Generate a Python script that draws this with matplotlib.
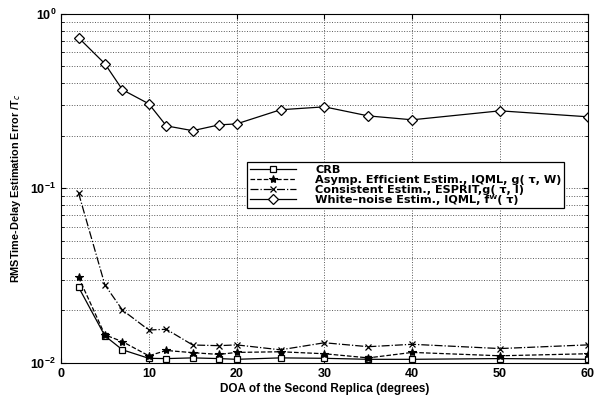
import numpy as np
import matplotlib.pyplot as plt

plt.rcParams['font.family'] = ['Liberation Sans', 'DejaVu Sans']

# DOA of the second replica (degrees)
doa = [2, 5, 7, 10, 12, 15, 18, 20, 25, 30, 35, 40, 50, 60]

crb = [0.0272, 0.0143, 0.0119, 0.01064, 0.0106, 0.0107, 0.0106, 0.0105,
       0.0107, 0.01064, 0.0105, 0.0105, 0.0106, 0.0105]
asymp = [0.031, 0.0145, 0.01325, 0.011, 0.0118, 0.01146, 0.0112, 0.0115,
         0.0116, 0.0113, 0.0107, 0.0115, 0.011, 0.0113]
consist = [0.094, 0.028, 0.0201, 0.01545, 0.0156, 0.01268, 0.01257, 0.0127,
           0.0119, 0.01306, 0.0124, 0.0128, 0.0121, 0.0127]
white = [0.729, 0.517, 0.367, 0.305, 0.228, 0.214, 0.231, 0.234,
         0.282, 0.293, 0.26, 0.247, 0.278, 0.257]

labels = ['CRB',
          'Asymp. Efficient Estim., IQML, g( \u03c4, W)',
          'Consistent Estim., ESPRIT,g( \u03c4, I)',
          'White\u2013noise Estim., IQML, f\u1d42( \u03c4)']

fig = plt.figure(figsize=(5.98, 3.96), dpi=100)
ax = fig.add_axes([0.102, 0.0833, 0.881, 0.882])

ax.semilogy(doa, crb, 'k-s', lw=0.9, ms=4.5, mfc='white', mew=0.9, label=labels[0])
ax.semilogy(doa, asymp, 'k--*', lw=0.9, ms=6, mew=0.8, label=labels[1])
ax.semilogy(doa, consist, 'k-.x', lw=0.9, ms=4.5, mew=0.9, label=labels[2])
ax.semilogy(doa, white, 'k-D', lw=0.9, ms=5, mfc='white', mew=0.9, label=labels[3])

ax.set_xlim(0, 60)
ax.set_ylim(1e-2, 1)
ax.set_xticks([0, 10, 20, 30, 40, 50, 60])
ax.grid(True, which='both', axis='y', ls=':', lw=0.7, color='0.35')
ax.grid(True, which='major', axis='x', ls=':', lw=0.7, color='0.35')
ax.tick_params(which='both', direction='in', labelsize=9, top=True, right=True)
ax.tick_params(which='minor', length=2)
for lab in ax.get_xticklabels() + ax.get_yticklabels():
    lab.set_fontweight('bold')

ax.set_xlabel('DOA of the Second Replica (degrees)', fontsize=8.5,
              fontweight='bold', labelpad=2)
ax.set_ylabel('RMSTime-Delay Estimation Error /T$_c$', fontsize=7.8,
              fontweight='bold', labelpad=5)

leg = ax.legend(loc='upper left', bbox_to_anchor=(0.353, 0.576),
                prop={'family': 'DejaVu Sans', 'size': 8.1, 'weight': 'bold'},
                borderaxespad=0, handlelength=4.1, fancybox=False, framealpha=1,
                edgecolor='black', borderpad=0.25, labelspacing=0.02,
                handletextpad=1.7)
leg.get_frame().set_linewidth(0.9)

fig.savefig('out.png', dpi=100)
